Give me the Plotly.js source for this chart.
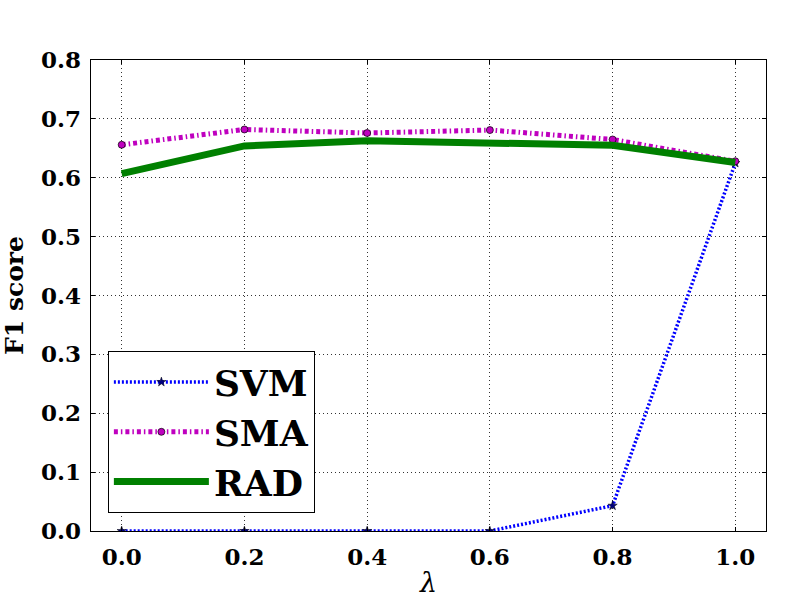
<!DOCTYPE html>
<html>
<head>
<meta charset="utf-8">
<script src="https://cdn.plot.ly/plotly-3.0.1.min.js"></script>
<style>
  html, body { margin: 0; padding: 0; background: #fff; }
  #chart { width: 812px; height: 612px; }
</style>
</head>
<body>
<div id="chart"></div>
<script>
// lambda values and F1 scores
const lambdas = [0.0, 0.2, 0.4, 0.6, 0.8, 1.0];
const svm = [0.0, 0.0, 0.0, 0.0, 0.043, 0.625];
const sma = [0.656, 0.682, 0.676, 0.681, 0.665, 0.628];
const rad = [0.607, 0.654, 0.663, 0.658, 0.655, 0.626];
const xTicks = [0.0, 0.2, 0.4, 0.6, 0.8, 1.0];
const xTickText = ['0.0', '0.2', '0.4', '0.6', '0.8', '1.0'];
const yTicks = [0.0, 0.1, 0.2, 0.3, 0.4, 0.5, 0.6, 0.7, 0.8];
const yTickText = ['0.0', '0.1', '0.2', '0.3', '0.4', '0.5', '0.6', '0.7', '0.8'];

const FONT = 'DejaVu Serif';

const traces = [
  {
    type: 'scatter', mode: 'lines+markers', name: 'SVM',
    x: lambdas, y: svm,
    line: { color: '#0000ff', width: 3.5, dash: '2px,2px' },
    marker: { symbol: 'star', size: 7, color: '#00007f', line: { color: '#000', width: 0.5 } }
  },
  {
    type: 'scatter', mode: 'lines+markers', name: 'SMA',
    x: lambdas, y: sma,
    line: { color: '#bf00bf', width: 5, dash: '4px,3px,1.5px,3px' },
    marker: { symbol: 'circle', size: 7, color: '#bf00bf', line: { color: '#000', width: 0.7 } }
  },
  {
    type: 'scatter', mode: 'lines', name: 'RAD',
    x: lambdas, y: rad,
    line: { color: '#008000', width: 7 }
  }
];

const axisBase = {
  showline: true, linecolor: '#000', linewidth: 1.3, mirror: 'ticks',
  ticks: 'inside', ticklen: 4, tickcolor: '#000', tickwidth: 1,
  showgrid: true, gridcolor: '#000', griddash: '1px,3px', gridwidth: 0.8,
  zeroline: false,
  tickfont: { family: FONT, size: 23, color: '#000', weight: 'bold' }
};

const layout = {
  width: 812, height: 612,
  paper_bgcolor: '#fff', plot_bgcolor: '#fff',
  margin: { l: 91, r: 46, t: 60, b: 81 },
  showlegend: true,
  xaxis: Object.assign({}, axisBase, {
    range: [-0.05, 1.05], tickvals: xTicks, ticktext: xTickText,
    ticklabelstandoff: 5,
    title: { text: 'λ', standoff: 4, font: { family: FONT, size: 27, color: '#000', style: 'italic' } }
  }),
  yaxis: Object.assign({}, axisBase, {
    range: [0, 0.8], tickvals: yTicks, ticktext: yTickText,
    ticklabelstandoff: 4,
    title: { text: 'F1 score', standoff: 10, font: { family: FONT, size: 25, color: '#000', weight: 'bold' } }
  }),
  legend: {
    x: 0.025, y: 0.038, xanchor: 'left', yanchor: 'bottom',
    bgcolor: '#fff', bordercolor: '#000', borderwidth: 1,
    itemwidth: 95,
    font: { family: FONT, size: 36, color: '#000', weight: 'bold' }
  }
};

Plotly.newPlot('chart', traces, layout, { staticPlot: true, displayModeBar: false });
</script>
</body>
</html>
